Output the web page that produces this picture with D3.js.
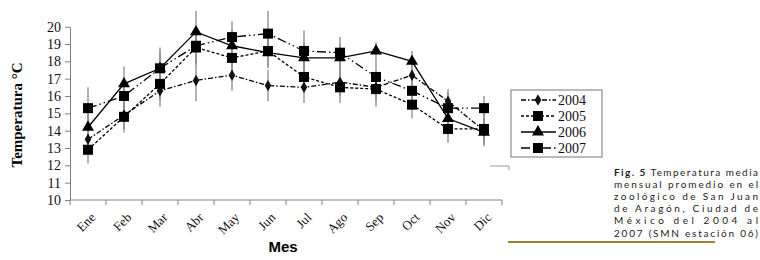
<!DOCTYPE html>
<html>
<head>
<meta charset="utf-8">
<script src="https://cdn.jsdelivr.net/npm/d3@7"></script>
<style>
  body { margin: 0; background: #fff; }
  svg { display: block; }
  .axis text { font-family: "Liberation Serif", "DejaVu Serif", serif; font-size: 14px; fill: #111; }
  .axis path, .axis line { stroke: #808080; stroke-width: 1; }
  .mlabel { font-family: "Liberation Serif", serif; font-size: 13px; fill: #111; }
  .leg { font-family: "Liberation Serif", serif; font-size: 14px; fill: #111; }
  .cap { font-family: Lato, "Open Sans", sans-serif; font-size: 10px; fill: #222; }
</style>
</head>
<body>
<svg id="chart" width="760" height="260"></svg>
<script>
const months = ["Ene", "Feb", "Mar", "Abr", "May", "Jun", "Jul", "Ago", "Sep", "Oct", "Nov", "Dic"];
const yTicks = [10, 11, 12, 13, 14, 15, 16, 17, 18, 19, 20];

const t2004 = [13.5, 14.9, 16.3, 16.9, 17.2, 16.6, 16.5, 16.8, 16.5, 17.2, 15.7, 14.0];
const t2005 = [12.9, 14.8, 16.7, 18.8, 18.2, 18.6, 17.1, 16.5, 16.4, 15.5, 14.1, 14.1];
const t2006 = [14.2, 16.7, 17.6, 19.7, 18.9, 18.5, 18.2, 18.2, 18.6, 18.0, 14.7, 13.9];
const t2007 = [15.3, 16.0, 17.6, 18.9, 19.4, 19.6, 18.6, 18.5, 17.1, 16.3, 15.3, 15.3];

const e2004 = [0.7, 0.8, 0.9, 1.2, 0.9, 0.9, 0.9, 0.8, 0.8, 0.9, 0.7, 0.6];
const e2005 = [0.8, 0.9, 0.9, 1.0, 0.8, 0.9, 0.9, 0.9, 1.0, 0.8, 0.8, 0.9];
const e2006 = [1.0, 1.0, 1.0, 1.2, 0.9, 0.9, 0.9, 0.8, 0.5, 0.6, 0.9, 0.8];
const e2007 = [1.2, 1.1, 1.2, 1.0, 0.9, 1.3, 1.2, 0.9, 1.0, 0.8, 0.9, 0.7];

const seriesNames = ["2004", "2005", "2006", "2007"];

const captionLines = [
    ["Fig. 5", " Temperatura media"],
    ["", "mensual promedio en el"],
    ["", "zoológico de San Juan"],
    ["", "de Aragón, Ciudad de"],
    ["", "México del     2004 al"],
    ["", "2007 (SMN estación 06)"]
];

const series = [
    {name: "2004", vals: t2004, err: e2004, dash: "5,2,1.5,2", mark: "diamond"},
    {name: "2005", vals: t2005, err: e2005, dash: "3,2", mark: "square"},
    {name: "2006", vals: t2006, err: e2006, dash: null, mark: "triangle"},
    {name: "2007", vals: t2007, err: e2007, dash: "9,3,1.5,3,1.5,3", mark: "square"}
];

let svg = d3.select("#chart");

let x = d3.scaleBand().domain(months).range([70, 502]);
let y = d3.scaleLinear().domain([10, 20]).range([200, 26.7]);
let cx = m => x(m) + x.bandwidth() / 2;

// y axis
let yAxis = d3.axisLeft(y).tickValues(yTicks).tickSize(5).tickPadding(4).tickSizeOuter(0);
svg.append("g").attr("class", "axis").attr("transform", "translate(70,0)").call(yAxis);

// x axis, ticks sit on the band edges
let gx = svg.append("g").attr("class", "axis");
gx.append("line").attr("x1", 70).attr("x2", 502).attr("y1", 200).attr("y2", 200);
gx.selectAll("line.tk").data(months.concat(["end"])).join("line").attr("class", "tk")
    .attr("x1", d => d === "end" ? 502 : x(d)).attr("x2", d => d === "end" ? 502 : x(d))
    .attr("y1", 200).attr("y2", 205);
svg.selectAll("text.mlabel").data(months).join("text").attr("class", "mlabel")
    .attr("text-anchor", "end")
    .attr("transform", d => "translate(" + (cx(d) + 5) + ",215) rotate(-45)")
    .attr("dy", "0.35em")
    .text(d => d);

// error bars
series.forEach(s => {
    svg.append("g").selectAll("line").data(months).join("line")
        .attr("x1", cx).attr("x2", cx)
        .attr("y1", (m, i) => y(s.vals[i] + s.err[i]))
        .attr("y2", (m, i) => y(s.vals[i] - s.err[i]))
        .attr("stroke", "#8a8a8a").attr("stroke-width", 1.3);
});

let line = d3.line().x((d, i) => cx(months[i])).y(d => y(d));

function drawMark(g, type, px, py) {
    if (type === "square") {
        g.append("rect").attr("x", px - 5).attr("y", py - 5).attr("width", 10).attr("height", 10).attr("fill", "#000");
    } else if (type === "diamond") {
        g.append("path").attr("d", d3.symbol(d3.symbolDiamond, 38)()).attr("transform", "translate(" + px + "," + py + ")").attr("fill", "#111");
    } else {
        g.append("path").attr("d", d3.symbol(d3.symbolTriangle, 62)()).attr("transform", "translate(" + px + "," + py + ")").attr("fill", "#000");
    }
}

series.forEach(s => {
    let g = svg.append("g");
    g.append("path").attr("d", line(s.vals)).attr("fill", "none").attr("stroke", "#000")
        .attr("stroke-width", 1.3).attr("stroke-dasharray", s.dash);
    s.vals.forEach((v, i) => drawMark(g, s.mark, cx(months[i]), y(v)));
});

// axis titles
svg.append("text").attr("transform", "translate(22,115) rotate(-90)").attr("text-anchor", "middle")
    .style("font-family", "Liberation Serif, serif").style("font-weight", "bold").style("font-size", "15px")
    .text("Temperatura °C");
svg.append("text").attr("x", 283).attr("y", 252).attr("text-anchor", "middle")
    .style("font-family", "Liberation Sans, Arial, sans-serif").style("font-weight", "bold").style("font-size", "15px")
    .text("Mes");

// legend
let lg = svg.append("g");
lg.append("rect").attr("x", 511).attr("y", 90).attr("width", 91).attr("height", 67)
    .attr("fill", "#fff").attr("stroke", "#777").attr("stroke-width", 1);
series.forEach((s, i) => {
    let ly = 100 + i * 16;
    lg.append("line").attr("x1", 521).attr("x2", 556).attr("y1", ly).attr("y2", ly)
        .attr("stroke", "#000").attr("stroke-width", 1.3).attr("stroke-dasharray", s.dash);
    drawMark(lg, s.mark, 538, ly);
    lg.append("text").attr("class", "leg").attr("x", 558).attr("y", ly + 5).text(seriesNames[i]);
});

// small frame mark
svg.append("path").attr("d", "M490,166H509V170").attr("fill", "none").attr("stroke", "#999");

// caption
let cap = svg.append("g");
captionLines.forEach((ln, i) => {
    let t = cap.append("text").attr("class", "cap").attr("x", 614).attr("y", 176 + i * 12.1)
        .attr("textLength", 144).attr("lengthAdjust", "spacing");
    if (ln[0]) t.append("tspan").style("font-weight", "bold").text(ln[0]);
    t.append("tspan").text(ln[1]);
});
svg.append("line").attr("x1", 508).attr("x2", 715).attr("y1", 242).attr("y2", 242)
    .attr("stroke", "#a0822e").attr("stroke-width", 2);
</script>
</body>
</html>
